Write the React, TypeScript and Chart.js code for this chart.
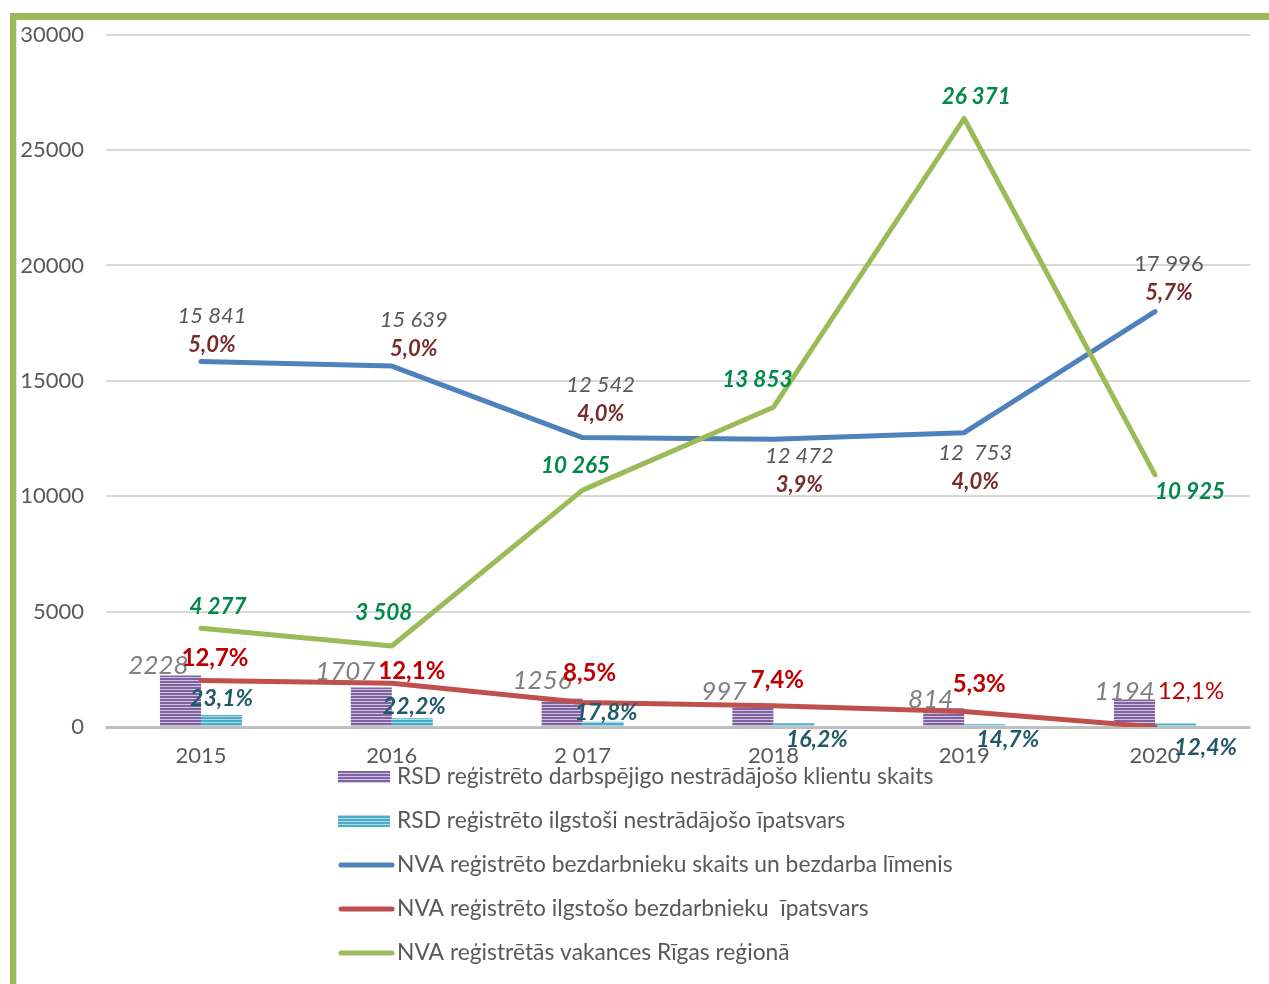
import React, { useEffect, useRef } from "react";
import { Chart, registerables } from "chart.js";

Chart.register(...registerables);

// ---------- data ----------
const categories = ["2015", "2016", "2 017", "2018", "2019", "2020"];
const rsdClients = [2228, 1707, 1256, 997, 814, 1194];
const rsdClientLabels = ["2228", "1707", "1256", "997", "814", "1194"];
const rsdLongTerm = [515, 379, 224, 162, 120, 148];
const rsdLongTermShare = ["23,1%", "22,2%", "17,8%", "16,2%", "14,7%", "12,4%"];
const nvaUnemployed = [15841, 15639, 12542, 12472, 12753, 17996];
const nvaUnemployedLabels = ["15 841", "15 639", "12 542", "12 472", "12  753", "17 996"];
const nvaUnemploymentRate = ["5,0%", "5,0%", "4,0%", "3,9%", "4,0%", "5,7%"];
const nvaLongTerm = [2012, 1892, 1066, 923, 676, 0];
const nvaLongTermShare = ["12,7%", "12,1%", "8,5%", "7,4%", "5,3%", "12,1%"];
const nvaVacancies = [4277, 3508, 10265, 13853, 26371, 10925];
const nvaVacancyLabels = ["4 277", "3 508", "10 265", "13 853", "26 371", "10 925"];
const seriesNames = [
  "RSD reģistrēto darbspējigo nestrādājošo klientu skaits",
  "RSD reģistrēto ilgstoši nestrādājošo īpatsvars",
  "NVA reģistrēto bezdarbnieku skaits un bezdarba līmenis",
  "NVA reģistrēto ilgstošo bezdarbnieku  īpatsvars",
  "NVA reģistrētās vakances Rīgas reģionā",
];
const yMin = 0;
const yMax = 30000;
const yStep = 5000;

// ---------- label placement (layout, relative to marks) ----------
const OFF_BLUE: number[][] = [[11, -46], [22, -46], [18, -53], [26, 17], [11, 20], [14, -48]];
const OFF_GREEN: number[][] = [[17, -22], [-8, -33], [-7, -24], [-16, -28], [12, -22], [35, 17]];
const OFF_PURPLE: number[][] = [[-22, -10], [-26, -16], [-20, -17], [-29, -12], [-13, -9], [-10, -8]];
const OFF_RED: number[][] = [[14, -22], [20, -12], [7, -29], [4, -25], [15, -27], [36, -36]];
const OFF_CYAN: number[][] = [[0, -17], [2, -12], [3, -9], [23, 16], [23, 15], [30, 24]];

const FONT = "Lato, 'Open Sans', sans-serif";

function stripePattern(dark: string, light: string): CanvasPattern | string {
  const c = document.createElement("canvas");
  c.width = 4;
  c.height = 3;
  const g = c.getContext("2d");
  if (!g) return dark;
  g.fillStyle = dark;
  g.fillRect(0, 0, 4, 3);
  g.fillStyle = light;
  g.fillRect(0, 2, 4, 1);
  return g.createPattern(c, "repeat") || dark;
}

export default function App() {
  const ref = useRef<HTMLCanvasElement | null>(null);

  useEffect(() => {
    const canvas = ref.current;
    if (!canvas) return;
    const purple = stripePattern("#8064a2", "#cfc3e0");
    const cyan = stripePattern("#4bacc6", "#a9dbe8");

    const txt = (
      ctx: CanvasRenderingContext2D,
      s: string,
      x: number,
      y: number,
      font: string,
      color: string
    ) => {
      ctx.font = font;
      ctx.fillStyle = color;
      ctx.textAlign = "center";
      ctx.textBaseline = "middle";
      ctx.fillText(s, x, y);
    };

    const framePlugin = {
      id: "frame",
      beforeDraw(chart: any) {
        const ctx = chart.ctx as CanvasRenderingContext2D;
        ctx.save();
        ctx.fillStyle = "#ffffff";
        ctx.fillRect(0, 0, chart.width, chart.height);
        ctx.fillStyle = "#9bbb59";
        ctx.fillRect(10, 13, chart.width - 10, 7);
        ctx.fillRect(10, 13, 6, chart.height - 13);
        ctx.fillStyle = "#e4e4e4";
        ctx.fillRect(16, 20, 1, chart.height - 20);
        ctx.restore();
      },
      beforeDatasetsDraw(chart: any) {
        const ctx = chart.ctx as CanvasRenderingContext2D;
        const a = chart.chartArea;
        ctx.save();
        ctx.strokeStyle = "#bfbfbf";
        ctx.lineWidth = 3;
        ctx.beginPath();
        ctx.moveTo(a.left, a.bottom + 0.5);
        ctx.lineTo(a.right, a.bottom + 0.5);
        ctx.stroke();
        ctx.restore();
      },
      afterDatasetsDraw(chart: any) {
        const ctx = chart.ctx as CanvasRenderingContext2D;
        ctx.save();
        const m0 = chart.getDatasetMeta(0).data;
        const m1 = chart.getDatasetMeta(1).data;
        const m2 = chart.getDatasetMeta(2).data;
        const m3 = chart.getDatasetMeta(3).data;
        const m4 = chart.getDatasetMeta(4).data;
        for (let i = 0; i < categories.length; i++) {
          // purple bar labels
          txt(ctx, rsdClientLabels[i], m0[i].x + OFF_PURPLE[i][0], m0[i].y + OFF_PURPLE[i][1],
            `italic 26px ${FONT}`, "#808080");
          // cyan bar labels
          txt(ctx, rsdLongTermShare[i], m1[i].x + OFF_CYAN[i][0], m1[i].y + OFF_CYAN[i][1],
            `italic bold 23px ${FONT}`, "#215968");
          // red line labels
          txt(ctx, nvaLongTermShare[i], m3[i].x + OFF_RED[i][0], m3[i].y + OFF_RED[i][1],
            `${i === 5 ? "" : "bold "}24px ${FONT}`, "#c00000");
          // blue line labels
          const bx = m2[i].x + OFF_BLUE[i][0];
          const by = m2[i].y + OFF_BLUE[i][1];
          txt(ctx, nvaUnemployedLabels[i], bx, by, `${i === 5 ? "" : "italic "}22px ${FONT}`, "#595959");
          txt(ctx, nvaUnemploymentRate[i], bx, by + 29, `italic bold 22px ${FONT}`, "#772c2a");
          // green line labels
          txt(ctx, nvaVacancyLabels[i], m4[i].x + OFF_GREEN[i][0], m4[i].y + OFF_GREEN[i][1],
            `italic bold 22.5px ${FONT}`, "#00894a");
        }
        ctx.restore();
      },
      afterDraw(chart: any) {
        const ctx = chart.ctx as CanvasRenderingContext2D;
        ctx.save();
        const x0 = 338;
        const y0 = 777;
        const step = 44;
        chart.data.datasets.forEach((ds: any, i: number) => {
          const y = y0 + i * step;
          if (ds.type === "bar") {
            ctx.fillStyle = ds.backgroundColor;
            ctx.fillRect(x0, y - 6, 52, 12);
          } else {
            ctx.strokeStyle = ds.borderColor;
            ctx.lineWidth = 5;
            ctx.lineCap = "round";
            ctx.beginPath();
            ctx.moveTo(x0 + 3, y);
            ctx.lineTo(x0 + 54, y);
            ctx.stroke();
          }
          ctx.font = `22.8px ${FONT}`;
          ctx.fillStyle = "#595959";
          ctx.textAlign = "left";
          ctx.textBaseline = "middle";
          ctx.fillText(ds.label, x0 + 59, y);
        });
        ctx.restore();
      },
    };

    const chart = new Chart(canvas, {
      type: "bar",
      data: {
        labels: categories,
        datasets: [
          {
            type: "bar",
            label: seriesNames[0],
            data: rsdClients,
            backgroundColor: purple as any,
            borderWidth: 0,
            categoryPercentage: 0.43,
            barPercentage: 1,
            order: 3,
          },
          {
            type: "bar",
            label: seriesNames[1],
            data: rsdLongTerm,
            backgroundColor: cyan as any,
            borderWidth: 0,
            categoryPercentage: 0.43,
            barPercentage: 1,
            order: 3,
          },
          {
            type: "line",
            label: seriesNames[2],
            data: nvaUnemployed,
            borderColor: "#4f81bd",
            backgroundColor: "#4f81bd",
            borderWidth: 5,
            pointRadius: 0,
            borderCapStyle: "round",
            borderJoinStyle: "round",
            tension: 0,
            order: 2,
          },
          {
            type: "line",
            label: seriesNames[3],
            data: nvaLongTerm,
            borderColor: "#c0504d",
            backgroundColor: "#c0504d",
            borderWidth: 5,
            pointRadius: 0,
            borderCapStyle: "round",
            borderJoinStyle: "round",
            tension: 0,
            order: 2,
          },
          {
            type: "line",
            label: seriesNames[4],
            data: nvaVacancies,
            borderColor: "#9bbb59",
            backgroundColor: "#9bbb59",
            borderWidth: 5,
            pointRadius: 0,
            borderCapStyle: "round",
            borderJoinStyle: "round",
            tension: 0,
            order: 1,
          },
        ],
      },
      options: {
        responsive: false,
        animation: false,
        layout: { padding: { left: 0, right: 18.6, top: 33, bottom: 207 } },
        plugins: {
          legend: { display: false },
          tooltip: { enabled: false },
        },
        scales: {
          x: {
            grid: { display: false, drawTicks: false },
            border: { display: false },
            ticks: {
              color: "#595959",
              font: { family: FONT, size: 22 },
              padding: 16,
              maxRotation: 0,
            },
            afterFit: (s: any) => {
              s.height = 50;
            },
          },
          y: {
            min: yMin,
            max: yMax,
            grid: { color: "#d9d9d9", lineWidth: 2, drawTicks: false },
            border: { display: false },
            ticks: {
              stepSize: yStep,
              color: "#595959",
              font: { family: FONT, size: 22 },
              padding: 21.5,
              callback: (v: any) => String(v),
            },
            afterFit: (s: any) => {
              s.width = 105.6;
            },
          },
        },
      },
      plugins: [framePlugin],
    });

    return () => chart.destroy();
  }, []);

  return (
    <div style={{ position: "fixed", left: 0, top: 0, width: 1269, height: 984, background: "#fff" }}>
      <canvas ref={ref} width={1269} height={984} style={{ width: 1269, height: 984, display: "block" }} />
    </div>
  );
}
